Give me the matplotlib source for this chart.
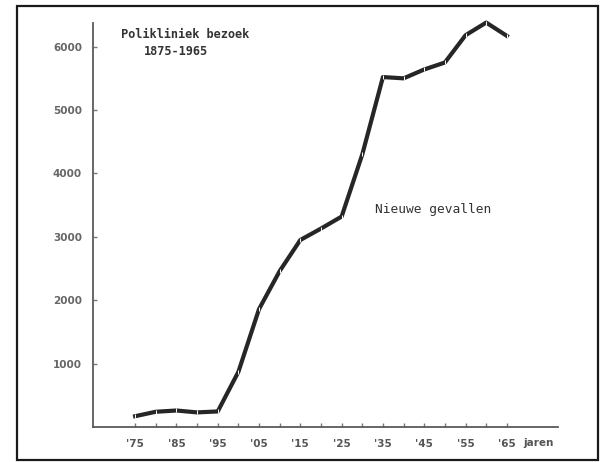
import matplotlib.pyplot as plt
from matplotlib.patches import Rectangle

# Polikliniek bezoek, nieuwe gevallen per 5 jaar
years = [1875, 1880, 1885, 1890, 1895, 1900, 1905, 1910, 1915, 1920,
         1925, 1930, 1935, 1940, 1945, 1950, 1955, 1960, 1965]
new_cases = [170, 240, 260, 230, 245, 870, 1860, 2460, 2950, 3130,
             3320, 4300, 5520, 5500, 5640, 5750, 6180, 6380, 6170]

y_ticks = [1000, 2000, 3000, 4000, 5000, 6000]
x_label_years = [1875, 1885, 1895, 1905, 1915, 1925, 1935, 1945, 1955, 1965]

fig = plt.figure(figsize=(6.02, 4.62), dpi=100)
ax = fig.add_axes([0.1545, 0.0758, 0.7725, 0.874])

# scanned-paper frame round the whole picture
fig.patches.append(Rectangle((0.028, 0.004), 0.965, 0.983, transform=fig.transFigure,
                             fill=False, edgecolor='#1a1a1a', linewidth=1.6))

ax.plot(years, new_cases, color='#262626', linewidth=3.0, clip_on=False,
        solid_joinstyle='round', zorder=3)
# small white breaks at each data point like in the original drawing
ax.plot(years, new_cases, linestyle='none', marker='|', markersize=3,
        markeredgecolor='white', markeredgewidth=0.7, clip_on=False, zorder=4)

ax.set_xlim(1864.8, 1977.4)
ax.set_ylim(0, 6370)

for side in ['top', 'right']:
    ax.spines[side].set_visible(False)
for side in ['left', 'bottom']:
    ax.spines[side].set_color('#5a5a5a')
    ax.spines[side].set_linewidth(1.3)

ax.set_yticks(y_ticks)
ax.set_yticklabels([str(v) for v in y_ticks])
ax.tick_params(axis='y', direction='in', length=3, width=1, color='#777777',
               pad=8, labelsize=7.5, labelcolor='#666666')

ax.set_xticks(years)
ax.set_xticklabels([("'" + str(y)[2:]) if y in x_label_years else '' for y in years])
ax.tick_params(axis='x', direction='in', length=3, width=1, color='#777777',
               pad=9, labelsize=7.5, labelcolor='#555555')
for lab in ax.get_yticklabels() + ax.get_xticklabels():
    lab.set_fontweight('bold')

ax.text(1968.9, -255, 'jaren', fontsize=7.5, fontweight='bold', color='#555555',
        ha='left', va='center', clip_on=False)

ax.text(1871.5, 6190, 'Polikliniek bezoek', fontsize=8.6, fontweight='bold',
        family='DejaVu Sans Mono', color='#333333', ha='left', va='center')
ax.text(1877, 5920, '1875-1965', fontsize=8.6, fontweight='bold',
        family='DejaVu Sans Mono', color='#333333', ha='left', va='center')
ax.text(1933, 3430, 'Nieuwe gevallen', fontsize=9.3, family='DejaVu Sans Mono',
        color='#333333', ha='left', va='center')

fig.savefig('out.png', dpi=100)
